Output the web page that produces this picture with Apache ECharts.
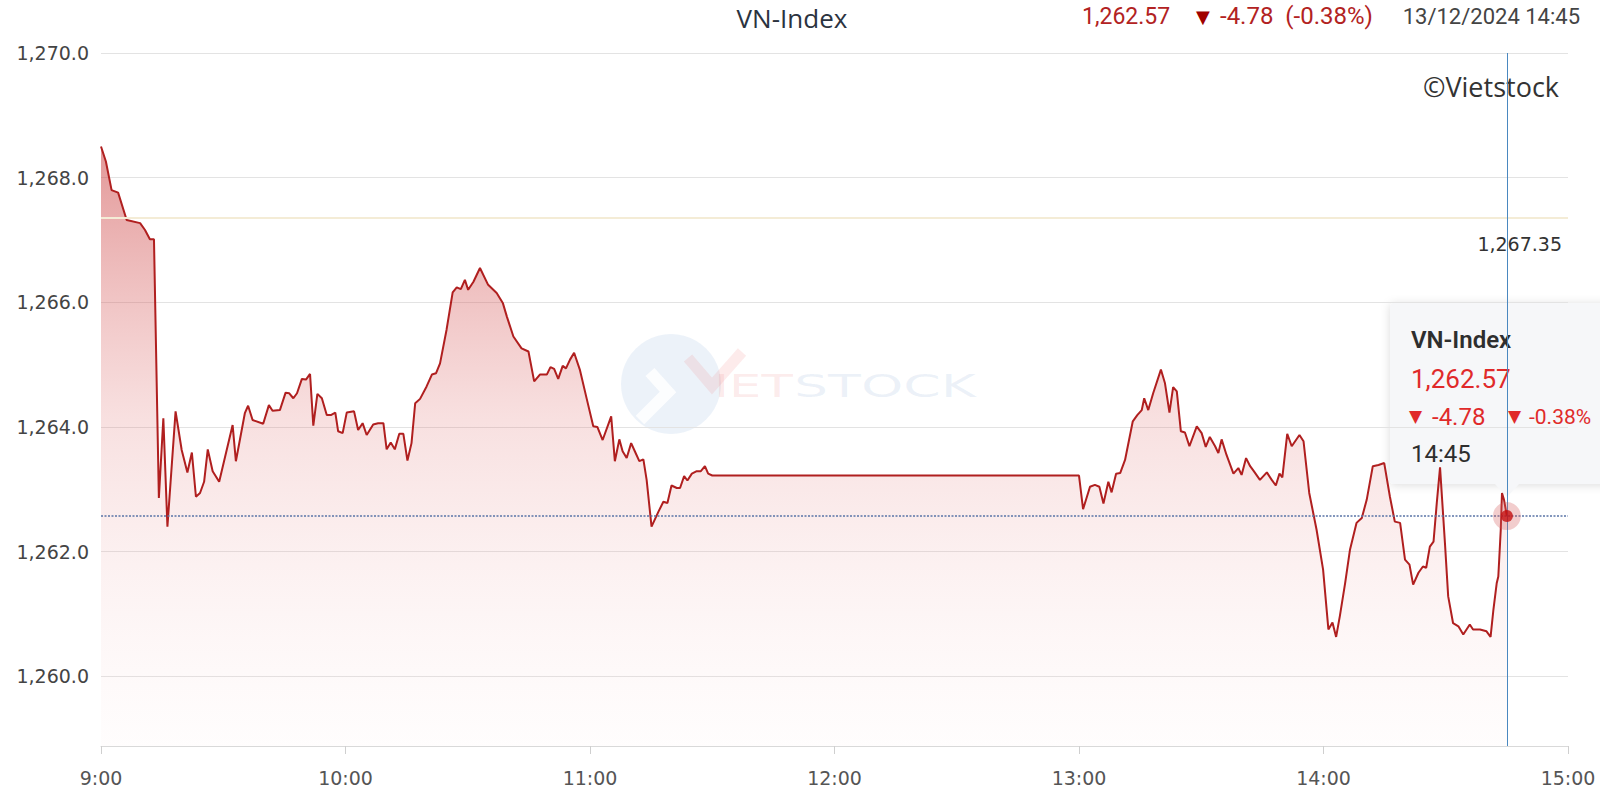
<!DOCTYPE html>
<html>
<head>
<meta charset="utf-8">
<script src="https://cdn.jsdelivr.net/npm/echarts@6/dist/echarts.min.js"></script>
<style>
html,body{margin:0;padding:0;overflow:hidden;background:#ffffff;}
#chart{width:1600px;height:801px;}
</style>
</head>
<body>
<div id="chart"></div>
<script>
// ---- Data (minutes after 9:00 open, VN-Index value) ----
const morningMinutes = [
  0, 1.2, 2.6, 4.2, 6.3, 9.6, 10.8, 12.0, 13.0, 14.2,
  15.3, 16.3, 18.3, 19.8, 21.2, 22.3, 23.3, 24.3, 25.3, 26.2,
  27.4, 29.0, 32.3, 33.1, 35.3, 36.1, 37.2, 39.8, 41.2, 42.1,
  43.9, 45.3, 46.2, 47.2, 48.1, 49.3, 50.3, 51.3, 52.1, 53.1,
  54.2, 55.4, 56.4, 57.5, 58.2, 59.3, 60.3, 62.1, 63.1, 64.2,
  65.2, 66.8, 68.0, 69.3, 70.1, 71.1, 72.1, 73.2, 74.2, 75.2,
  76.2, 77.1, 78.3, 79.9, 81.2, 82.2, 83.2, 84.8, 86.3, 87.3,
  88.3, 89.3, 90.1, 91.4, 93.0, 95.0, 97.1, 98.6, 99.6, 101.2,
  103.2, 104.9, 106.3, 107.7, 109.4, 110.3, 111.2, 112.2, 113.3, 114.1,
  115.1, 116.1, 117.5, 119.2, 120.8, 121.8, 123.1, 125.2, 126.1, 127.2,
  128.0, 129.0, 130.1, 131.0, 132.1, 133.1, 133.9, 135.1, 136.8, 138.0,
  139.0, 140.0, 141.3, 142.1, 143.1, 143.9, 145.0, 146.2, 147.2, 148.2,
  149.0, 150.0
];
const morningValues = [
  1268.50, 1268.26, 1267.80, 1267.76, 1267.32, 1267.27, 1267.16, 1267.01, 1267.01, 1262.86,
  1264.14, 1262.40, 1264.25, 1263.63, 1263.27, 1263.59, 1262.88, 1262.94, 1263.12, 1263.64,
  1263.29, 1263.12, 1264.03, 1263.45, 1264.22, 1264.34, 1264.11, 1264.05, 1264.35, 1264.26,
  1264.27, 1264.55, 1264.54, 1264.46, 1264.54, 1264.77, 1264.76, 1264.85, 1264.02, 1264.53,
  1264.46, 1264.19, 1264.19, 1264.23, 1263.93, 1263.90, 1264.23, 1264.25, 1263.95, 1264.06,
  1263.87, 1264.04, 1264.06, 1264.06, 1263.64, 1263.75, 1263.64, 1263.89, 1263.89, 1263.46,
  1263.74, 1264.38, 1264.45, 1264.65, 1264.84, 1264.86, 1265.02, 1265.56, 1266.16, 1266.24,
  1266.21, 1266.36, 1266.20, 1266.33, 1266.55, 1266.28, 1266.15, 1265.99, 1265.77, 1265.45,
  1265.26, 1265.21, 1264.73, 1264.84, 1264.84, 1264.96, 1264.93, 1264.77, 1264.98, 1264.94,
  1265.08, 1265.19, 1264.92, 1264.45, 1264.01, 1264.00, 1263.79, 1264.17, 1263.45, 1263.80,
  1263.61, 1263.50, 1263.74, 1263.61, 1263.45, 1263.48, 1263.15, 1262.40, 1262.64, 1262.80,
  1262.78, 1263.06, 1263.02, 1263.02, 1263.21, 1263.14, 1263.25, 1263.29, 1263.29, 1263.37,
  1263.25, 1263.22
];
const afternoonMinutes = [
  240.0, 241.0, 242.7, 243.9, 245.0, 246.0, 247.2, 248.0, 249.1, 250.1, 251.3,
  253.2, 254.3, 255.4, 256.0, 257.0, 258.2, 260.1, 261.1, 262.2, 263.1,
  264.0, 265.0, 266.0, 267.1, 268.9, 270.1, 271.1, 272.1, 273.4, 274.2,
  275.0, 276.2, 277.9, 279.1, 279.9, 281.0, 282.0, 282.9, 284.4, 286.1,
  287.3, 288.3, 289.2, 289.9, 291.1, 292.2, 294.1, 295.1, 296.5, 298.3,
  299.9, 301.2, 302.2, 303.1, 304.0, 305.3, 306.5, 308.1, 309.4, 310.6,
  312.1, 313.5, 314.9, 316.3, 317.5, 318.8, 320.0, 321.1, 322.0, 323.3,
  324.4, 325.2, 326.1, 327.0, 327.8, 328.6, 329.8, 330.6, 331.8, 333.1,
  334.3, 335.9, 336.7, 338.4, 340.0, 341.0, 341.7, 342.5, 342.9, 343.5,
  343.8, 344.3, 345.0
];
const afternoonValues = [
  1263.22, 1262.68, 1263.04, 1263.07, 1263.04, 1262.77, 1263.12, 1262.95, 1263.25, 1263.26, 1263.47,
  1264.09, 1264.19, 1264.27, 1264.46, 1264.27, 1264.54, 1264.92, 1264.70, 1264.23, 1264.64,
  1264.57, 1263.93, 1263.91, 1263.69, 1264.01, 1263.90, 1263.68, 1263.84, 1263.69, 1263.58,
  1263.80, 1263.55, 1263.25, 1263.34, 1263.23, 1263.50, 1263.37, 1263.29, 1263.15, 1263.27,
  1263.15, 1263.06, 1263.25, 1263.19, 1263.89, 1263.69, 1263.87, 1263.77, 1262.94, 1262.35,
  1261.71, 1260.75, 1260.86, 1260.63, 1260.96, 1261.49, 1262.03, 1262.46, 1262.54, 1262.83,
  1263.37, 1263.39, 1263.42, 1262.88, 1262.48, 1262.46, 1261.87, 1261.79, 1261.47, 1261.66,
  1261.76, 1261.74, 1262.08, 1262.16, 1262.78, 1263.35, 1262.14, 1261.28, 1260.85, 1260.80,
  1260.67, 1260.83, 1260.75, 1260.75, 1260.72, 1260.63, 1261.07, 1261.49, 1261.60, 1262.35,
  1262.94, 1262.83, 1262.57
];
const xTickLabels = ['9:00', '10:00', '11:00', '12:00', '13:00', '14:00', '15:00'];
const referenceValue = 1267.35;   // previous close
const indexName = 'VN-Index';
const dateLabel = '13/12/2024';
const lastTimeLabel = '14:45';

// ---- Derived ----
const allMinutes = morningMinutes.concat(afternoonMinutes);
const allValues = morningValues.concat(afternoonValues);
const seriesData = allMinutes.map((m, i) => [m, allValues[i]]);
const lastPoint = seriesData[seriesData.length - 1];
const lastValue = lastPoint[1];
const change = lastValue - referenceValue;
const changePct = change / referenceValue * 100;

function fmt(v, d) {
  const s = Math.abs(v).toFixed(d);
  const parts = s.split('.');
  parts[0] = parts[0].replace(/\B(?=(\d{3})+(?!\d))/g, ',');
  return (v < 0 ? '-' : '') + parts.join('.');
}

const RED_DARK = '#b22222';
const RED_TIP = '#e02a2a';

const chart = echarts.init(document.getElementById('chart'), null, {renderer: 'svg'});

const option = {
  animation: false,
  backgroundColor: '#ffffff',
  grid: {left: 101, right: 32, top: 53, bottom: 55, containLabel: false},
  xAxis: {
    type: 'value',
    min: 0,
    max: 360,
    interval: 60,
    axisLine: {show: true, lineStyle: {color: '#d9d9d9', width: 1}},
    axisTick: {show: true, length: 8, lineStyle: {color: '#cfcfcf'}},
    splitLine: {show: false},
    axisLabel: {
      color: '#555',
      fontSize: 19,
      fontFamily: 'DejaVu Sans',
      margin: 22,
      formatter: v => xTickLabels[Math.round(v / 60)]
    }
  },
  yAxis: {
    type: 'value',
    min: 1258.88,
    max: 1270,
    minInterval: 2,
    maxInterval: 2,
    axisLine: {show: false},
    axisTick: {show: false},
    splitLine: {lineStyle: {color: '#e3e3e3', width: 1}},
    axisLabel: {
      showMinLabel: false,
      color: '#444',
      fontSize: 19,
      fontFamily: 'DejaVu Sans',
      margin: 12,
      formatter: v => fmt(v, 1)
    }
  },
  series: [
    {
      // reference (previous close) line, drawn beneath the area
      type: 'line',
      data: [],
      z: 1,
      silent: true,
      markLine: {
        silent: true,
        symbol: 'none',
        animation: false,
        data: [{
          yAxis: referenceValue,
          lineStyle: {color: '#f4ecd6', width: 2, type: 'solid'},
          label: {
            show: true,
            position: 'insideEndBottom',
            distance: [6, 16],
            formatter: fmt(referenceValue, 2),
            color: '#333',
            fontSize: 19,
            fontFamily: 'DejaVu Sans'
          }
        }]
      }
    },
    {
      type: 'line',
      data: seriesData,
      showSymbol: false,
      symbol: 'none',
      silent: true,
      z: 2,
      lineStyle: {color: '#b01f1f', width: 2},
      areaStyle: {
        origin: 'start',
        color: {
          type: 'linear', x: 0, y: 0, x2: 0, y2: 1,
          colorStops: [
            {offset: 0, color: 'rgba(200,55,55,0.74)'},
            {offset: 0.45, color: 'rgba(222,110,110,0.31)'},
            {offset: 1, color: 'rgba(250,215,215,0.08)'}
          ]
        }
      },
      markLine: {
        silent: true,
        symbol: 'none',
        animation: false,
        data: [
          {
            yAxis: lastValue,
            lineStyle: {color: '#5a74a6', width: 1.6, type: [2, 1.5]},
            label: {show: false}
          },
          {
            xAxis: lastPoint[0],
            lineStyle: {color: '#4a88c0', width: 1, type: 'solid'},
            label: {show: false}
          }
        ]
      }
    },
    {
      type: 'scatter',
      data: [lastPoint],
      symbolSize: 28,
      silent: true,
      z: 5,
      itemStyle: {color: 'rgba(214,90,90,0.38)'}
    },
    {
      type: 'scatter',
      data: [lastPoint],
      symbolSize: 12,
      silent: true,
      z: 6,
      itemStyle: {color: '#c40f0f'}
    }
  ],
  graphic: [
    // watermark logo
    {
      type: 'group', silent: true, z: 0,
      children: [
        {type: 'circle', shape: {cx: 671, cy: 384, r: 50}, style: {fill: 'rgba(120,160,215,0.14)'}},
        {type: 'polyline', shape: {points: [[640, 420], [668, 392], [650, 372]]},
         style: {stroke: 'rgba(255,255,255,0.85)', lineWidth: 12, fill: null}},
        {type: 'polyline', shape: {points: [[688, 358], [712, 386], [742, 352]]},
         style: {stroke: 'rgba(240,120,120,0.15)', lineWidth: 11, fill: null}},
        {type: 'text', x: 714, y: 386, scaleX: 1.6,
         style: {text: 'IET', fill: 'rgba(235,110,110,0.15)', font: '32px "DejaVu Sans"', verticalAlign: 'middle'}},
        {type: 'text', x: 794, y: 386, scaleX: 1.68,
         style: {text: 'STOCK', fill: 'rgba(110,150,200,0.13)', font: '32px "DejaVu Sans"', verticalAlign: 'middle'}}
      ]
    },
    // header
    {type: 'text', x: 792, y: 18, silent: true,
     style: {text: indexName, fill: '#2b3340', font: '26px "Open Sans"', lineHeight: 26, align: 'center', verticalAlign: 'middle'}},
    {type: 'text', x: 1082, y: 16, silent: true,
     style: {text: fmt(lastValue, 2), fill: RED_DARK, font: '23px Roboto', align: 'left', verticalAlign: 'middle'}},
    {type: 'text', x: 1196, y: 16, silent: true,
     style: {text: '\u25BC', fill: '#a00000', font: '18px "DejaVu Sans"', align: 'left', verticalAlign: 'middle'}},
    {type: 'text', x: 1220, y: 16, silent: true,
     style: {text: fmt(change, 2) + '  (' + fmt(changePct, 2) + '%)', fill: RED_DARK, font: '24px Roboto', align: 'left', verticalAlign: 'middle'}},
    {type: 'text', x: 1580, y: 16, silent: true,
     style: {text: dateLabel + ' ' + lastTimeLabel, fill: '#444', font: '22px Roboto', align: 'right', verticalAlign: 'middle'}},
    // copyright
    {type: 'text', x: 1559, y: 86, silent: true,
     style: {text: '\u00A9Vietstock', fill: '#333', font: '27px "Open Sans"', align: 'right', verticalAlign: 'middle'}},
    // tooltip box
    {
      type: 'group', silent: true, z: 100,
      children: [
        {type: 'rect', shape: {x: 1390, y: 303, width: 260, height: 181, r: 4},
         style: {fill: '#f6f7f9', shadowBlur: 10, shadowColor: 'rgba(0,0,0,0.14)', shadowOffsetY: 1}},
        {type: 'polygon', shape: {points: [[1494, 483], [1520, 483], [1507, 497]]},
         style: {fill: '#f6f7f9'}},
        {type: 'text', x: 1411, y: 340,
         style: {text: indexName, fill: '#2e2e2e', font: '600 24px Roboto', verticalAlign: 'middle'}},
        {type: 'text', x: 1411, y: 379,
         style: {text: fmt(lastValue, 2), fill: RED_TIP, font: '26px Roboto', verticalAlign: 'middle'}},
        {type: 'text', x: 1409, y: 416,
         style: {text: '\u25BC', fill: RED_TIP, font: '17px "DejaVu Sans"', verticalAlign: 'middle'}},
        {type: 'text', x: 1432, y: 417,
         style: {text: fmt(change, 2), fill: RED_TIP, font: '24px Roboto', verticalAlign: 'middle'}},
        {type: 'text', x: 1508, y: 416,
         style: {text: '\u25BC', fill: RED_TIP, font: '17px "DejaVu Sans"', verticalAlign: 'middle'}},
        {type: 'text', x: 1529, y: 417,
         style: {text: fmt(changePct, 2) + '%', fill: RED_TIP, font: '21px Roboto', verticalAlign: 'middle'}},
        {type: 'text', x: 1411, y: 454,
         style: {text: lastTimeLabel, fill: '#2e2e2e', font: '24px Roboto', verticalAlign: 'middle'}}
      ]
    }
  ]
};

chart.setOption(option);
</script>
</body>
</html>
